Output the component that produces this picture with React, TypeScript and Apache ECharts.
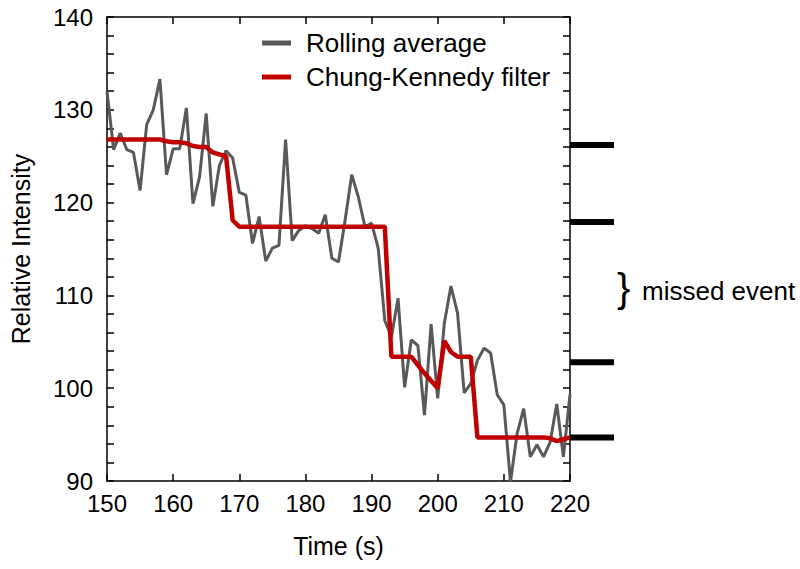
import React, { useEffect, useRef } from "react";
import * as echarts from "echarts";

const times = [
  150, 151, 152, 153, 154, 155, 156, 157, 158, 159,
  160, 161, 162, 163, 164, 165, 166, 167, 168, 169,
  170, 171, 172, 173, 174, 175, 176, 177, 178, 179,
  180, 181, 182, 183, 184, 185, 186, 187, 188, 189,
  190, 191, 192, 193, 194, 195, 196, 197, 198, 199,
  200, 201, 202, 203, 204, 205, 206, 207, 208, 209,
  210, 211, 212, 213, 214, 215, 216, 217, 218, 219, 220,
];

const rollingAverage = [
  132.0, 125.7, 127.5, 125.7, 125.4, 121.3, 128.4, 130.0, 133.3, 123.0,
  125.8, 125.8, 130.2, 119.9, 122.8, 129.6, 119.6, 124.0, 125.6, 124.8,
  121.1, 120.8, 115.6, 118.5, 113.7, 115.1, 115.4, 126.8, 115.9, 117.0,
  117.5, 117.2, 116.7, 118.7, 114.0, 113.6, 118.1, 123.0, 120.6, 117.4,
  117.8, 115.1, 107.3, 105.5, 109.7, 100.1, 105.2, 104.6, 97.1, 106.9,
  98.9, 107.0, 111.0, 108.1, 99.5, 100.5, 103.0, 104.3, 103.8, 99.3,
  98.2, 89.9, 95.1, 97.8, 92.6, 93.9, 92.6, 94.2, 98.3, 92.6, 99.3,
];

const chungKennedy = [
  126.8, 126.8, 126.8, 126.8, 126.8, 126.8, 126.8, 126.8, 126.8, 126.6,
  126.5, 126.5, 126.4, 126.1, 126.0, 126.0, 125.4, 125.2, 125.0, 118.1,
  117.4, 117.4, 117.4, 117.4, 117.4, 117.4, 117.4, 117.4, 117.4, 117.4,
  117.4, 117.4, 117.4, 117.4, 117.4, 117.4, 117.4, 117.4, 117.4, 117.4,
  117.4, 117.4, 117.4, 103.4, 103.4, 103.4, 103.4, 102.5, 101.6, 100.8,
  100.0, 105.1, 103.9, 103.4, 103.4, 103.4, 94.7, 94.7, 94.7, 94.7,
  94.7, 94.7, 94.7, 94.7, 94.7, 94.7, 94.7, 94.6, 94.3, 94.5, 94.7,
];

const eventLevels = [126.2, 117.9, 102.8, 94.7];

const xTicks = { min: 150, max: 220, interval: 10 };
const yTicks = { min: 90, max: 140, interval: 10 };

const FONT = "'Liberation Sans', Arial, sans-serif";

export default function App() {
  const ref = useRef<HTMLDivElement>(null);

  useEffect(() => {
    if (!ref.current) return;
    const chart = echarts.init(ref.current, null, { renderer: "svg" });

    const axisLine = { show: true, lineStyle: { color: "#000", width: 1.5 } };
    const tickStyle = { color: "#000", width: 1.5 };

    const levelSeries = eventLevels.map((v, i) => ({
      name: "level" + i,
      type: "line",
      xAxisIndex: 2,
      yAxisIndex: 2,
      data: [
        [0, v],
        [1, v],
      ],
      symbol: "none",
      lineStyle: { color: "#000", width: 6 },
      silent: true,
    }));

    chart.setOption({
      animation: false,
      backgroundColor: "#fff",
      textStyle: { fontFamily: FONT },
      grid: [
        { left: 102, right: 230, top: 17, bottom: 88, containLabel: false },
        { left: 570, width: 44, top: 17, bottom: 88, containLabel: false },
      ],
      legend: {
        orient: "vertical",
        left: 262,
        top: 30,
        padding: 0,
        itemWidth: 29,
        itemHeight: 5,
        itemGap: 8,
        icon: "rect",
        data: ["Rolling average", "Chung-Kennedy filter"],
        textStyle: {
          fontSize: 26,
          fontFamily: FONT,
          color: "#000",
          padding: [0, 0, 0, 10],
        },
      },
      xAxis: [
        {
          type: "value",
          gridIndex: 0,
          min: xTicks.min,
          max: xTicks.max,
          interval: xTicks.interval,
          name: "Time (s)",
          nameLocation: "middle",
          nameGap: 52,
          nameTextStyle: { fontSize: 25, color: "#000", fontFamily: FONT },
          axisLine,
          axisTick: { show: true, inside: true, length: 7, lineStyle: tickStyle },
          axisLabel: { fontSize: 24, color: "#000", margin: 10, fontFamily: FONT },
          splitLine: { show: false },
        },
        {
          type: "value",
          gridIndex: 0,
          position: "top",
          min: xTicks.min,
          max: xTicks.max,
          interval: xTicks.interval,
          axisLine,
          axisTick: { show: true, inside: true, length: 7, lineStyle: tickStyle },
          axisLabel: { show: false },
          splitLine: { show: false },
        },
        {
          type: "value",
          gridIndex: 1,
          min: 0,
          max: 1,
          show: false,
        },
      ],
      yAxis: [
        {
          type: "value",
          gridIndex: 0,
          min: yTicks.min,
          max: yTicks.max,
          interval: yTicks.interval,
          name: "Relative Intensity",
          nameLocation: "middle",
          nameGap: 74,
          nameTextStyle: { fontSize: 25, color: "#000", fontFamily: FONT },
          axisLine,
          axisTick: { show: true, inside: true, length: 7, lineStyle: tickStyle },
          minorTick: { show: true, splitNumber: 5, length: 7, lineStyle: tickStyle },
          axisLabel: { fontSize: 24, color: "#000", margin: 14, fontFamily: FONT },
          splitLine: { show: false },
        },
        {
          type: "value",
          gridIndex: 0,
          position: "right",
          min: yTicks.min,
          max: yTicks.max,
          interval: yTicks.interval,
          axisLine,
          axisTick: { show: true, inside: true, length: 7, lineStyle: tickStyle },
          minorTick: { show: true, splitNumber: 5, length: 7, lineStyle: tickStyle },
          axisLabel: { show: false },
          splitLine: { show: false },
        },
        {
          type: "value",
          gridIndex: 1,
          min: yTicks.min,
          max: yTicks.max,
          show: false,
        },
      ],
      series: [
        {
          name: "Rolling average",
          type: "line",
          xAxisIndex: 0,
          yAxisIndex: 0,
          data: times.map((t, i) => [t, rollingAverage[i]]),
          symbol: "none",
          color: "#595959",
          lineStyle: { color: "#595959", width: 3 },
          clip: true,
        },
        {
          name: "Chung-Kennedy filter",
          type: "line",
          xAxisIndex: 0,
          yAxisIndex: 0,
          data: times.map((t, i) => [t, chungKennedy[i]]),
          symbol: "none",
          color: "#c00000",
          lineStyle: { color: "#c00000", width: 4.5 },
          clip: true,
        },
        ...levelSeries,
      ],
      graphic: [
        {
          type: "text",
          left: 617,
          top: 268,
          style: {
            text: "}",
            fontSize: 40,
            fontFamily: FONT,
            fill: "#000",
          },
        },
        {
          type: "text",
          left: 642,
          top: 278,
          style: {
            text: "missed event",
            fontSize: 26,
            fontFamily: FONT,
            fill: "#000",
          },
        },
      ],
    });

    return () => chart.dispose();
  }, []);

  return (
    <div
      ref={ref}
      style={{ position: "absolute", left: 0, top: 0, width: 800, height: 569 }}
    />
  );
}
